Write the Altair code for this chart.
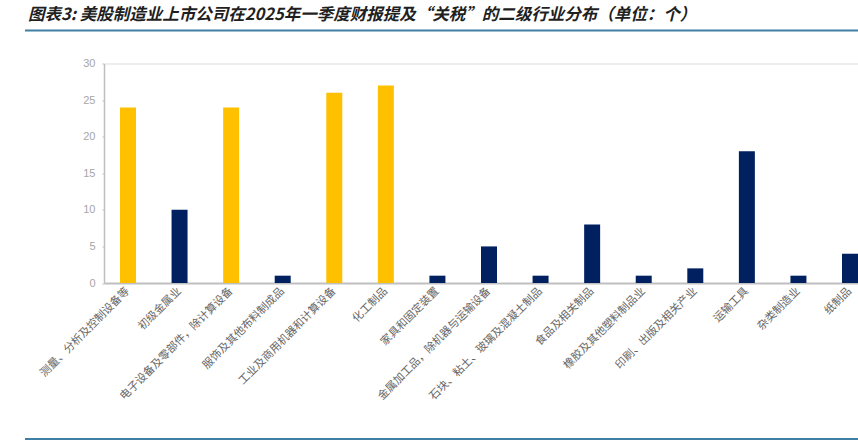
import altair as alt
import pandas as pd

# Secondary manufacturing industries and number of listed companies mentioning tariffs
categories = [
    "测量、分析及控制设备等",
    "初级金属业",
    "电子设备及零部件，除计算设备",
    "服饰及其他布料制成品",
    "工业及商用机器和计算设备",
    "化工制品",
    "家具和固定装置",
    "金属加工品，除机器与运输设备",
    "石块、粘土、玻璃及混凝土制品",
    "食品及相关制品",
    "橡胶及其他塑料制品业",
    "印刷、出版及相关产业",
    "运输工具",
    "杂类制造业",
    "纸制品",
]
counts = [24, 10, 24, 1, 26, 27, 1, 5, 1, 8, 1, 2, 18, 1, 4]
highlighted = [True, False, True, False, True, True, False, False,
               False, False, False, False, False, False, False]

title_text = "图表3: 美股制造业上市公司在2025年一季度财报提及“关税”的二级行业分布（单位：个）"

df = pd.DataFrame({
    "行业": categories,
    "数量": counts,
    "重点": ["是" if h else "否" for h in highlighted],
})

W, H = 754, 219.5
CJK = "Noto Sans CJK SC"

bars = alt.Chart(df).mark_bar().encode(
    x=alt.X(
        "行业:N",
        sort=None,
        title=None,
        scale=alt.Scale(range=[0, 770], paddingInner=0.69, paddingOuter=0.31),
        axis=alt.Axis(
            labelAngle=-45,
            labelAlign="right",
            labelBaseline="middle",
            labelPadding=6,
            labelFont=CJK,
            labelFontSize=11,
            labelColor="#666666",
            labelLimit=300,
            ticks=False,
            domainColor="#bfbfbf",
            domainWidth=2,
        ),
    ),
    y=alt.Y(
        "数量:Q",
        title=None,
        scale=alt.Scale(domain=[0, 30], nice=False),
        axis=alt.Axis(
            values=[0, 5, 10, 15, 20, 25, 30],
            grid=False,
            labelFont="Liberation Sans",
            labelFontSize=11,
            labelColor="#a6a6a6",
            labelPadding=7,
            tickSize=2,
            tickColor="#bfbfbf",
            domainColor="#bfbfbf",
            domainWidth=1.5,
        ),
    ),
    color=alt.Color(
        "重点:N",
        scale=alt.Scale(domain=["是", "否"], range=["#FFC000", "#002060"]),
        legend=None,
    ),
)

frame = pd.DataFrame({"k": [0]})
top_line = alt.Chart(frame).mark_rule(color="#3f7fa3", strokeWidth=2).encode(
    x=alt.value(-79), x2=alt.value(W + 10), y=alt.value(-33)
)
bottom_line = alt.Chart(frame).mark_rule(color="#3f7fa3", strokeWidth=2).encode(
    x=alt.value(-79), x2=alt.value(W + 10), y=alt.value(H + 156)
)

chart = alt.layer(bars, top_line, bottom_line).properties(
    width=W,
    height=H,
    title=alt.TitleParams(
        text=title_text,
        anchor="start",
        frame="group",
        dx=-76,
        offset=6,
        font=CJK,
        fontSize=16.5,
        fontWeight="bold",
        fontStyle="italic",
        color="#1f1f1f",
    ),
    autosize=alt.AutoSizeParams(type="none"),
    padding={"left": 104, "top": 63.5, "right": 0, "bottom": 446 - 63.5 - H},
).configure_view(stroke=None).configure(background="white")

chart.save("out.html", embed_options={"renderer": "svg", "actions": False})
